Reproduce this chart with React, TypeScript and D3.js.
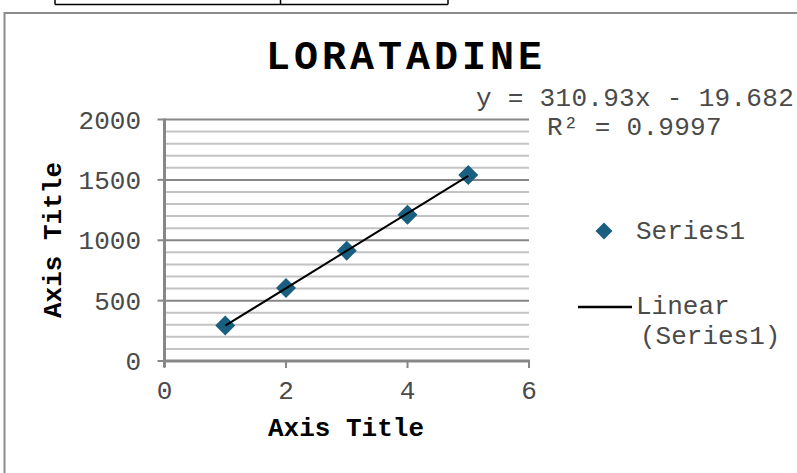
import React from "react";
import * as d3 from "d3";

const xValues = [1, 2, 3, 4, 5];
const yValues = [293, 605, 914, 1212, 1541];
const xTicks = [0, 2, 4, 6];
const yTicks = [0, 500, 1000, 1500, 2000];
const minorStep = 100;
const title = "LORATADINE";
const xAxisTitle = "Axis Title";
const yAxisTitle = "Axis Title";
const equationLabel = "y = 310.93x - 19.682";
const r2Label = "R² = 0.9997";
const seriesName = "Series1";
const trendNameLines = ["Linear", "(Series1)"];

const FONT = "'Liberation Mono', 'Courier New', monospace";
const MARK = "#1a5e80";
const TXT = "#4a4a4a";

export default function App() {
  const x = d3.scaleLinear().domain([0, 6]).range([164.5, 529]);
  const y = d3.scaleLinear().domain([0, 2000]).range([361, 119.5]);

  // least squares trendline
  const mx = d3.mean(xValues) as number;
  const my = d3.mean(yValues) as number;
  let sxy = 0, sxx = 0;
  xValues.forEach((v, i) => {
    sxy += (v - mx) * (yValues[i] - my);
    sxx += (v - mx) * (v - mx);
  });
  const slope = sxy / sxx;
  const icpt = my - slope * mx;
  const x0 = d3.min(xValues) as number;
  const x1 = d3.max(xValues) as number;
  const line = d3.line<number>().x((d) => x(d)).y((d) => y(slope * d + icpt));

  const minor = d3.range(minorStep, 2000 + 1, minorStep).filter((v) => v % 500 !== 0);
  const majors = yTicks.filter((v) => v !== 0);
  const diamond = (cx: number, cy: number, r: number) =>
    `M${cx},${cy - r}L${cx + r},${cy}L${cx},${cy + r}L${cx - r},${cy}Z`;

  return (
    <svg width={797} height={473} style={{ position: "absolute", left: 0, top: 0, background: "#fff" }}>
      {/* fragment of table above */}
      <g stroke="#000" strokeWidth={1.5} fill="none">
        <line x1={55} y1={0} x2={55} y2={4.5} />
        <line x1={280.5} y1={0} x2={280.5} y2={4.5} />
        <line x1={448} y1={0} x2={448} y2={4.5} />
        <line x1={55} y1={4.5} x2={448} y2={4.5} />
      </g>
      {/* chart border */}
      <rect x={4.5} y={13} width={820} height={480} fill="none" stroke="#8c8c8c" strokeWidth={2} />

      {/* title */}
      <text x={406} y={68.5} textAnchor="middle" fontFamily={FONT} fontWeight="bold" fontSize={40} letterSpacing={4} fill="#000">
        {title}
      </text>

      {/* gridlines */}
      {minor.map((v) => (
        <line key={"m" + v} x1={x(0)} x2={x(6)} y1={y(v)} y2={y(v)} stroke="#c3c3c3" strokeWidth={2} />
      ))}
      {majors.map((v) => (
        <line key={"M" + v} x1={x(0)} x2={x(6)} y1={y(v)} y2={y(v)} stroke="#878787" strokeWidth={2} />
      ))}

      {/* axes */}
      <line x1={x(0)} x2={x(0)} y1={y(2000) - 1} y2={y(0) + 6} stroke="#878787" strokeWidth={3} />
      <line x1={x(0)} x2={x(6) + 1} y1={y(0)} y2={y(0)} stroke="#878787" strokeWidth={3} />
      {yTicks.map((v) => (
        <line key={"yt" + v} x1={x(0) - 7} x2={x(0)} y1={y(v)} y2={y(v)} stroke="#878787" strokeWidth={2} />
      ))}
      {xTicks.map((v) => (
        <line key={"xt" + v} x1={x(v)} x2={x(v)} y1={y(0)} y2={y(0) + 7} stroke="#878787" strokeWidth={2} />
      ))}

      {/* tick labels */}
      {yTicks.map((v) => (
        <text key={"yl" + v} x={141} y={y(v)} dy="0.35em" textAnchor="end" fontFamily={FONT} fontSize={26} fill={TXT}>
          {v}
        </text>
      ))}
      {xTicks.map((v) => (
        <text key={"xl" + v} x={x(v)} y={399} textAnchor="middle" fontFamily={FONT} fontSize={26} fill={TXT}>
          {v}
        </text>
      ))}

      {/* axis titles */}
      <text x={346} y={436} textAnchor="middle" fontFamily={FONT} fontWeight="bold" fontSize={26} fill="#000">
        {xAxisTitle}
      </text>
      <text
        transform="translate(61,240) rotate(-90)"
        textAnchor="middle"
        fontFamily={FONT}
        fontWeight="bold"
        fontSize={26}
        fill="#000"
      >
        {yAxisTitle}
      </text>

      {/* markers */}
      {xValues.map((v, i) => (
        <path key={"p" + i} d={diamond(x(v), y(yValues[i]), 10)} fill={MARK} />
      ))}
      {/* trendline */}
      <path d={line([x0, x1]) as string} stroke="#000" strokeWidth={2} fill="none" />

      {/* equation */}
      <text x={476} y={106} fontFamily={FONT} fontSize={26} letterSpacing={0.3} fill={TXT}>
        {equationLabel}
      </text>
      <text x={547} y={135} fontFamily={FONT} fontSize={26} letterSpacing={0.3} fill={TXT}>
        {r2Label}
      </text>

      {/* legend */}
      <path d={diamond(604, 231, 8.5)} fill={MARK} />
      <text x={636} y={239} fontFamily={FONT} fontSize={26} fill={TXT}>
        {seriesName}
      </text>
      <line x1={578} x2={632} y1={307} y2={307} stroke="#000" strokeWidth={2.5} />
      <text x={636} y={314} fontFamily={FONT} fontSize={26} fill={TXT}>
        {trendNameLines[0]}
      </text>
      <text x={640} y={344} fontFamily={FONT} fontSize={26} fill={TXT}>
        {trendNameLines[1]}
      </text>
    </svg>
  );
}
